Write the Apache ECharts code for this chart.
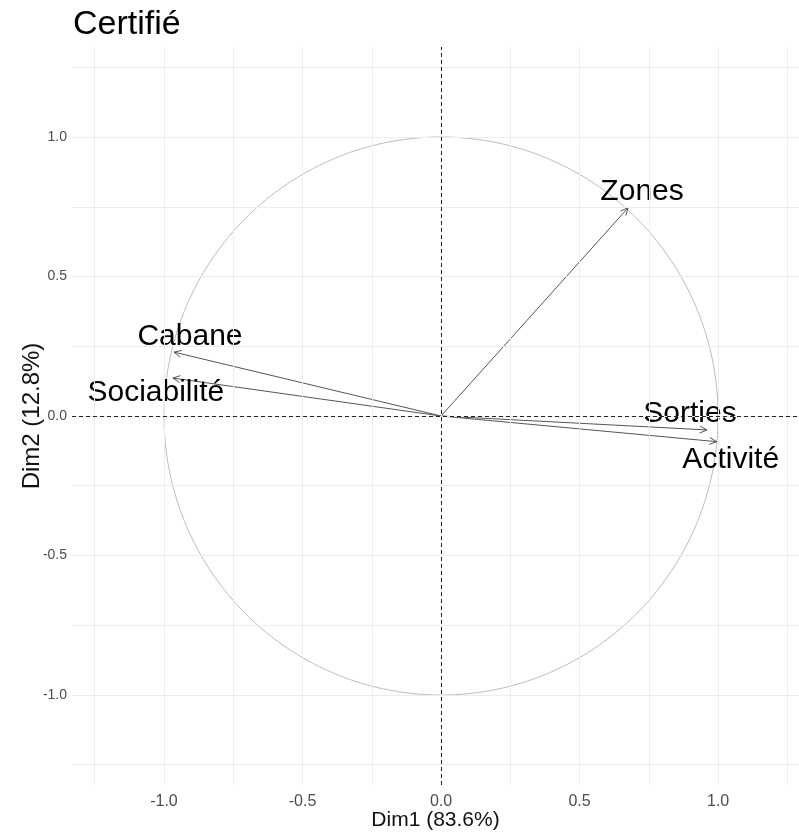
<!DOCTYPE html>
<html>
<head>
<meta charset="utf-8">
<script src="https://cdn.jsdelivr.net/npm/echarts@6/dist/echarts.min.js"></script>
<style>html,body{margin:0;padding:0;background:#fff;overflow:hidden;}#chart{width:799px;height:833px;}</style>
</head>
<body>
<div id="chart"></div>
<script>
// ---- data ----
const variables = ['Zones', 'Sorties', 'Activité', 'Cabane', 'Sociabilité'];
const dim1 = [0.675, 0.960, 0.995, -0.964, -0.968];
const dim2 = [0.746, -0.050, -0.092, 0.229, 0.136];
const tickValues = [-1, -0.5, 0, 0.5, 1];
const gridValues = [-1.25, -1, -0.75, -0.5, -0.25, 0, 0.25, 0.5, 0.75, 1, 1.25];
const xTitle = 'Dim1 (83.6%)';
const yTitle = 'Dim2 (12.8%)';
const chartTitle = 'Certifié';

// label layout (pixel offsets from arrow tip)
const labelOffsets = {
  'Zones': [14, -16],
  'Sorties': [-17, -16],
  'Activité': [14, 18],
  'Cabane': [16, -15],
  'Sociabilité': [-17, 15]
};

// unit circle (reference geometry)
const unitCircle = [];
for (let i = 0; i <= 360; i++) {
  const a = i * Math.PI / 180;
  unitCircle.push([Math.cos(a), Math.sin(a)]);
}

const arrowData = variables.map((v, i) => [dim1[i], dim2[i], v]);
const FONT = '"Liberation Sans", Arial, sans-serif';

const chart = echarts.init(document.getElementById('chart'));
chart.setOption({
  animation: false,
  backgroundColor: '#ffffff',
  title: {
    text: chartTitle,
    left: 73, top: 8, padding: 0,
    textStyle: { fontFamily: FONT, fontSize: 34, fontWeight: 'normal', color: '#000' }
  },
  grid: { left: 72, right: 0, top: 47, bottom: 48, outerBoundsMode: 'none', containLabel: false },
  xAxis: {
    type: 'value', min: -1.332, max: 1.292,
    name: xTitle, nameLocation: 'middle', nameGap: 25, nameMoveOverlap: false,
    nameTextStyle: { fontFamily: FONT, fontSize: 21, color: '#111' },
    axisLine: { show: false },
    splitLine: { show: false },
    axisTick: { show: true, customValues: tickValues, length: 4, lineStyle: { color: '#555' } },
    axisLabel: { customValues: tickValues, fontFamily: FONT, fontSize: 16, color: '#4d4d4d', margin: 9,
      formatter: v => v.toFixed(1) }
  },
  yAxis: {
    type: 'value', min: -1.3226, max: 1.3226,
    name: yTitle, nameLocation: 'middle', nameGap: 28, nameRotate: 90, nameMoveOverlap: false,
    nameTextStyle: { fontFamily: FONT, fontSize: 24, color: '#111' },
    axisLine: { show: false },
    splitLine: { show: false },
    axisTick: { show: true, customValues: tickValues, length: 4, lineStyle: { color: '#555' } },
    axisLabel: { customValues: tickValues, fontFamily: FONT, fontSize: 14, color: '#4d4d4d', margin: 5,
      formatter: v => v.toFixed(1) }
  },
  series: [
    {
      type: 'line', data: [], silent: true, z: 1,
      markLine: {
        silent: true, symbol: ['none', 'none'], animation: false,
        label: { show: false },
        lineStyle: { color: '#ededed', width: 1, type: 'solid' },
        data: gridValues.map(v => ({ xAxis: v })).concat(gridValues.map(v => ({ yAxis: v })))
      }
    },
    {
      type: 'line', data: unitCircle, showSymbol: false, silent: true, z: 2,
      lineStyle: { color: '#bdbdbd', width: 1 }
    },
    {
      type: 'line', data: [], silent: true, z: 3,
      markLine: {
        silent: true, symbol: ['none', 'none'], animation: false,
        label: { show: false },
        lineStyle: { color: '#222', width: 1, type: [4, 3] },
        data: [{ xAxis: 0 }, { yAxis: 0 }]
      }
    },
    {
      type: 'custom', z: 4, silent: true,
      data: arrowData,
      renderItem: function (params, api) {
        const p0 = api.coord([0, 0]);
        const p1 = api.coord([api.value(0), api.value(1)]);
        const name = arrowData[params.dataIndex][2];
        const ang = Math.atan2(p1[1] - p0[1], p1[0] - p0[0]);
        const L = 8, A = Math.PI / 7;
        const h1 = [p1[0] - L * Math.cos(ang - A), p1[1] - L * Math.sin(ang - A)];
        const h2 = [p1[0] - L * Math.cos(ang + A), p1[1] - L * Math.sin(ang + A)];
        const off = labelOffsets[name] || [0, 0];
        const st = { stroke: '#555', lineWidth: 1, fill: null };
        return {
          type: 'group',
          children: [
            { type: 'line', shape: { x1: p0[0], y1: p0[1], x2: p1[0], y2: p1[1] }, style: st },
            { type: 'polyline', shape: { points: [h1, p1, h2] }, style: st },
            { type: 'text', x: p1[0] + off[0], y: p1[1] + off[1],
              style: { text: name, fontFamily: FONT, fontSize: 30, fill: '#000',
                align: 'center', verticalAlign: 'middle' } }
          ]
        };
      }
    }
  ]
});
</script>
</body>
</html>
